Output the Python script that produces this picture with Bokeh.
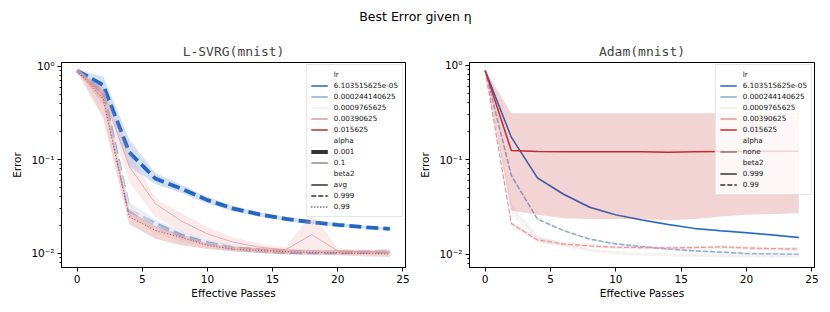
from bokeh.plotting import figure
from bokeh.layouts import column, row
from bokeh.models import FixedTicker, Legend, LegendItem, Label, Range1d
from bokeh.embed import file_html
from bokeh.resources import INLINE

# ---------------- data ----------------
x_passes = [0, 2, 4, 6, 8, 10, 12, 14, 16, 18, 20, 22, 24]

lr_labels = ["6.103515625e-05", "0.000244140625", "0.0009765625", "0.00390625", "0.015625"]
lr_colors = ["#2466c4", "#8eaad6", "#f2ecec", "#e39a9a", "#c42a2f"]

# L-SVRG (mnist)
svrg_lr1_mean = [0.90, 0.63, 0.120, 0.063, 0.049, 0.037, 0.030, 0.026, 0.0233, 0.0215, 0.0201, 0.0190, 0.0182]
svrg_lr1_lo = [0.89, 0.52, 0.085, 0.055, 0.044, 0.034, 0.028, 0.0245, 0.0220, 0.0205, 0.0193, 0.0183, 0.0176]
svrg_lr1_hi = [0.91, 0.78, 0.165, 0.072, 0.054, 0.040, 0.032, 0.0275, 0.0245, 0.0225, 0.0210, 0.0197, 0.0188]

svrg_lr2_mean = [0.90, 0.52, 0.0286, 0.0206, 0.0155, 0.0128, 0.0113, 0.0107, 0.0103, 0.0102, 0.0102, 0.0103, 0.0104]
svrg_lr2_lo = [0.89, 0.44, 0.0240, 0.0180, 0.0140, 0.0118, 0.0106, 0.0101, 0.0098, 0.0097, 0.0097, 0.0098, 0.0099]
svrg_lr2_hi = [0.91, 0.60, 0.0350, 0.0230, 0.0172, 0.0138, 0.0120, 0.0113, 0.0109, 0.0108, 0.0108, 0.0109, 0.0110]

svrg_lr3_mean = [0.90, 0.45, 0.0300, 0.0185, 0.0145, 0.0122, 0.0112, 0.0107, 0.0105, 0.0104, 0.0104, 0.0104, 0.0104]
svrg_lr3_lo = [0.89, 0.38, 0.0260, 0.0165, 0.0132, 0.0114, 0.0106, 0.0102, 0.0100, 0.0099, 0.0099, 0.0099, 0.0099]
svrg_lr3_hi = [0.91, 0.55, 0.0350, 0.0205, 0.0158, 0.0130, 0.0118, 0.0112, 0.0110, 0.0109, 0.0109, 0.0109, 0.0109]

svrg_lr4_mean = [0.90, 0.50, 0.085, 0.034, 0.022, 0.0161, 0.0131, 0.0116, 0.0109, 0.0158, 0.0106, 0.0104, 0.0103]
svrg_lr4_lo = [0.88, 0.40, 0.058, 0.0245, 0.017, 0.0135, 0.0117, 0.0106, 0.0101, 0.0102, 0.0100, 0.0100, 0.0099]
svrg_lr4_hi = [0.92, 0.60, 0.130, 0.0385, 0.027, 0.0190, 0.0148, 0.0126, 0.0116, 0.0268, 0.0112, 0.0109, 0.0108]

svrg_lr5_mean = [0.90, 0.45, 0.0245, 0.0175, 0.0148, 0.0121, 0.0111, 0.0107, 0.0104, 0.0102, 0.0101, 0.0099, 0.0098]
svrg_lr5_lo = [0.88, 0.28, 0.0205, 0.0143, 0.0122, 0.0111, 0.0104, 0.0100, 0.0097, 0.0096, 0.0095, 0.0093, 0.0091]
svrg_lr5_hi = [0.92, 0.55, 0.0285, 0.0195, 0.0160, 0.0128, 0.0117, 0.0113, 0.0110, 0.0108, 0.0107, 0.0105, 0.0104]

# Adam (mnist)
adam_lr1_mean = [0.88, 0.173, 0.064, 0.043, 0.0313, 0.026, 0.023, 0.0205, 0.0187, 0.0177, 0.0168, 0.0159, 0.0150]
adam_lr1_lo = [0.87, 0.168, 0.062, 0.042, 0.0305, 0.0254, 0.0225, 0.0200, 0.0183, 0.0173, 0.0164, 0.0155, 0.0146]
adam_lr1_hi = [0.89, 0.178, 0.066, 0.044, 0.0321, 0.0266, 0.0235, 0.0210, 0.0191, 0.0181, 0.0172, 0.0163, 0.0154]

adam_lr2_mean = [0.88, 0.068, 0.0235, 0.0177, 0.0144, 0.0128, 0.0120, 0.0113, 0.0108, 0.0105, 0.0101, 0.0100, 0.0099]
adam_lr2_lo = [0.87, 0.066, 0.0230, 0.0173, 0.0141, 0.0125, 0.0117, 0.0110, 0.0105, 0.0102, 0.0098, 0.0097, 0.0096]
adam_lr2_hi = [0.89, 0.070, 0.0240, 0.0181, 0.0147, 0.0131, 0.0123, 0.0116, 0.0111, 0.0108, 0.0104, 0.0103, 0.0102]

adam_lr3_mean = [0.88, 0.030, 0.0150, 0.0125, 0.0110, 0.0103, 0.0100, 0.0098, 0.0097, 0.0096, 0.0096, 0.0095, 0.0095]
adam_lr3_lo = [0.87, 0.026, 0.0140, 0.0119, 0.0106, 0.0099, 0.0096, 0.0094, 0.0093, 0.0092, 0.0092, 0.0091, 0.0091]
adam_lr3_hi = [0.89, 0.035, 0.0160, 0.0131, 0.0114, 0.0107, 0.0104, 0.0102, 0.0101, 0.0100, 0.0100, 0.0099, 0.0099]

adam_lr4_mean = [0.88, 0.0211, 0.0141, 0.0128, 0.0122, 0.0118, 0.0117, 0.0116, 0.0117, 0.0119, 0.0116, 0.0114, 0.0113]
adam_lr4_lo = [0.87, 0.0200, 0.0133, 0.0122, 0.0117, 0.0113, 0.0112, 0.0111, 0.0112, 0.0114, 0.0111, 0.0109, 0.0108]
adam_lr4_hi = [0.89, 0.0222, 0.0149, 0.0134, 0.0127, 0.0123, 0.0122, 0.0121, 0.0122, 0.0124, 0.0121, 0.0119, 0.0118]

adam_lr5_mean = [0.88, 0.125, 0.122, 0.121, 0.121, 0.121, 0.121, 0.120, 0.121, 0.122, 0.122, 0.123, 0.123]
adam_lr5_lo = [0.87, 0.029, 0.026, 0.0240, 0.0235, 0.0235, 0.0235, 0.0228, 0.0235, 0.0250, 0.0260, 0.0265, 0.0270]
adam_lr5_hi = [0.89, 0.310, 0.310, 0.310, 0.310, 0.310, 0.310, 0.310, 0.310, 0.310, 0.310, 0.310, 0.310]

y_major = [0.01, 0.1, 1.0]
y_major_labels = ["10\u207b\u00b2", "10\u207b\u00b9", "10\u2070"]
y_minor = [0.007, 0.008, 0.009, 0.02, 0.03, 0.04, 0.05, 0.06, 0.07, 0.08, 0.09,
           0.2, 0.3, 0.4, 0.5, 0.6, 0.7, 0.8, 0.9]
x_ticks = [0, 5, 10, 15, 20, 25]

FONT = "DejaVu Sans"
NAN = float("nan")


def make_panel(title, width, border_left, border_right, y_lo, y_hi):
    p = figure(width=width, height=274, y_axis_type="log",
               x_range=Range1d(-1.2, 25.2), y_range=Range1d(y_lo, y_hi),
               output_backend="svg", toolbar_location=None,
               min_border_left=border_left, min_border_right=border_right,
               min_border_top=24, min_border_bottom=45, title=title)
    p.title.text_font = "DejaVu Sans Mono"
    p.title.text_font_size = "13px"
    p.title.text_font_style = "normal"
    p.title.align = "center"
    p.title.standoff = 7
    p.grid.visible = False
    p.outline_line_color = "black"
    p.outline_line_width = 1
    p.background_fill_color = "white"
    p.border_fill_color = "white"

    p.xaxis.ticker = FixedTicker(ticks=x_ticks)
    p.yaxis.ticker = FixedTicker(ticks=y_major, minor_ticks=y_minor)
    p.yaxis.major_label_overrides = {v: t for v, t in zip(y_major, y_major_labels)}
    for ax in (p.xaxis, p.yaxis):
        ax.major_label_text_font = FONT
        ax.major_label_text_font_size = "10.5px"
        ax.major_label_text_color = "black"
        ax.axis_label_text_font = FONT
        ax.axis_label_text_font_size = "10.5px"
        ax.axis_label_text_font_style = "normal"
        ax.axis_label_text_color = "black"
        ax.axis_line_color = "black"
        ax.major_tick_line_color = "black"
        ax.major_tick_out = 4
        ax.major_tick_in = 0
        ax.major_label_standoff = 3
    p.xaxis.minor_tick_line_color = None
    p.yaxis.minor_tick_out = 2
    p.yaxis.minor_tick_in = 0
    p.yaxis.minor_tick_line_color = "black"
    p.xaxis.axis_label = "Effective Passes"
    p.yaxis.axis_label = "Error"
    p.xaxis.axis_label_standoff = 1
    p.yaxis.axis_label_standoff = 5
    return p


def draw(p, mean, lo, hi, color, width, dash, fill_alpha=0.2):
    p.varea(x=x_passes, y1=lo, y2=hi, fill_color=color, fill_alpha=fill_alpha)
    p.line(x_passes, mean, line_color=color, line_width=width, line_dash=dash)


def build_legend(p, groups):
    items = []
    for header, entries in groups:
        r = p.line(x=[NAN], y=[NAN], line_alpha=0)
        items.append(LegendItem(label=header, renderers=[r]))
        for label, color, width, dash in entries:
            r = p.line(x=[NAN], y=[NAN], line_color=color, line_width=width, line_dash=dash)
            items.append(LegendItem(label=label, renderers=[r]))
    leg = Legend(items=items, location="top_right", margin=2, padding=4,
                 spacing=0, glyph_width=17, glyph_height=11, label_height=11,
                 label_standoff=6, label_text_font=FONT, label_text_font_size="7.2px",
                 label_text_color="#111111",
                 border_line_color="#cccccc", border_line_width=1,
                 background_fill_color="white", background_fill_alpha=0.8)
    p.add_layout(leg)


# ---------------- suptitle ----------------
p0 = figure(width=830, height=38, x_range=Range1d(0, 1), y_range=Range1d(0, 1),
            x_axis_location=None, y_axis_location=None, toolbar_location=None,
            output_backend="svg", min_border=0, outline_line_color=None)
p0.grid.visible = False
p0.add_layout(Label(x=0.5, y=0.58, text="Best Error given \u03b7", text_align="center",
                    text_baseline="middle", text_font=FONT, text_font_size="12.5px",
                    text_color="black"))

# ---------------- L-SVRG ----------------
p1 = make_panel("L-SVRG(mnist)", 415, 61, 10, 0.00703, 1.10)
draw(p1, svrg_lr1_mean, svrg_lr1_lo, svrg_lr1_hi, lr_colors[0], 3.8, "12 5")
draw(p1, svrg_lr2_mean, svrg_lr2_lo, svrg_lr2_hi, lr_colors[1], 3.8, "12 5")
draw(p1, svrg_lr3_mean, svrg_lr3_lo, svrg_lr3_hi, lr_colors[2], 1.0, "solid", 0.5)
draw(p1, svrg_lr4_mean, svrg_lr4_lo, svrg_lr4_hi, lr_colors[3], 0.8, "solid")
draw(p1, svrg_lr5_mean, svrg_lr5_lo, svrg_lr5_hi, lr_colors[4], 0.9, "1 2")

build_legend(p1, [
    ("lr", [(lab, col, 1.5, "solid") for lab, col in zip(lr_labels, lr_colors)]),
    ("alpha", [("0.001", "#333333", 4, "solid"), ("0.1", "#555555", 1, "solid")]),
    ("beta2", [("avg", "#333333", 1.5, "solid"), ("0.999", "#333333", 1.5, "5 2"),
               ("0.99", "#333333", 1.5, "1 2")]),
])

# ---------------- Adam ----------------
p2 = make_panel("Adam(mnist)", 415, 54, 16, 0.0072, 1.07)
draw(p2, adam_lr1_mean, adam_lr1_lo, adam_lr1_hi, lr_colors[0], 1.5, "solid")
draw(p2, adam_lr2_mean, adam_lr2_lo, adam_lr2_hi, lr_colors[1], 1.5, "5 2")
draw(p2, adam_lr3_mean, adam_lr3_lo, adam_lr3_hi, lr_colors[2], 1.5, "5 2", 0.5)
draw(p2, adam_lr4_mean, adam_lr4_lo, adam_lr4_hi, lr_colors[3], 1.2, "5 2")
draw(p2, adam_lr5_mean, adam_lr5_lo, adam_lr5_hi, lr_colors[4], 1.5, "solid")

build_legend(p2, [
    ("lr", [(lab, col, 1.5, "solid") for lab, col in zip(lr_labels, lr_colors)]),
    ("alpha", [("none", "#444444", 1.2, "solid")]),
    ("beta2", [("0.999", "#333333", 1.5, "solid"), ("0.99", "#333333", 1.5, "5 2")]),
])

layout = column(p0, row(p1, p2, spacing=0), spacing=0)
open("out.html", "w").write(file_html(layout, INLINE))
